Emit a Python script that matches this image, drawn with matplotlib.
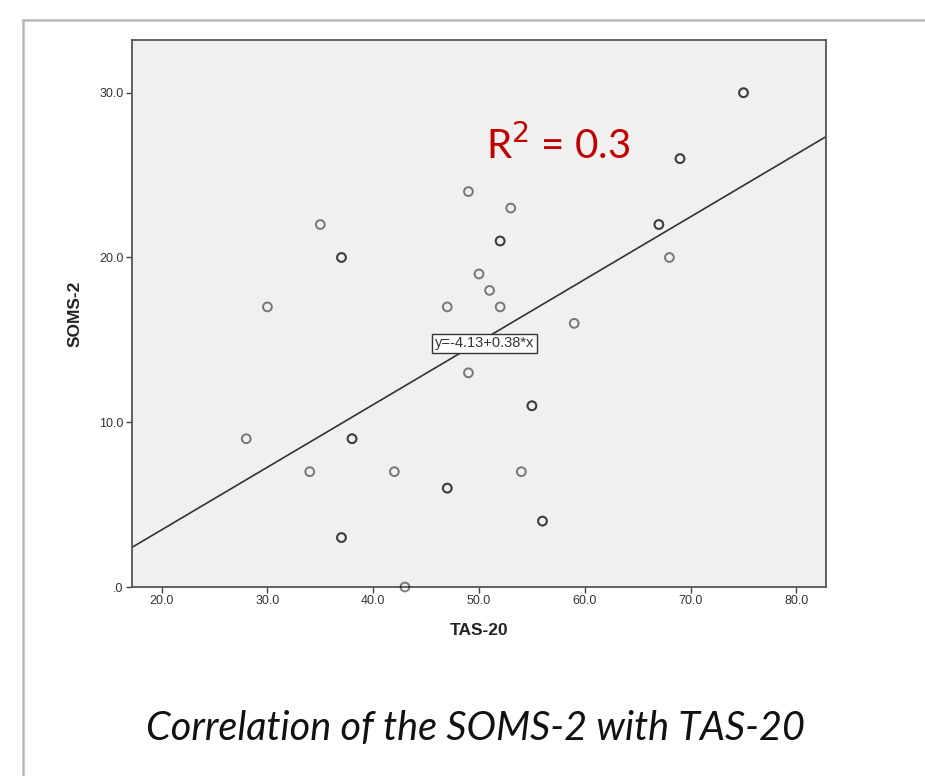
import matplotlib
matplotlib.use("Agg")
import matplotlib.pyplot as plt
import numpy as np

# Data
tas20 = [28, 30, 34, 35, 37, 37, 38, 42, 43, 47, 47, 49, 49, 50, 51, 52, 52, 53, 54, 55, 56, 59, 67, 68, 69, 75,
         37, 37, 38, 47, 52, 55, 56, 67, 75, 69]
soms2 = [9, 17, 7, 22, 20, 3, 9, 7, 0, 17, 6, 24, 13, 19, 18, 21, 17, 23, 7, 11, 4, 16, 22, 20, 26, 30,
         20, 3, 9, 6, 21, 11, 4, 22, 30, 26]
intercept = -4.13
slope = 0.38
r2_text = "R$^2$ = 0.3"
eq_text = "y=-4.13+0.38*x"
xticks = [20, 30, 40, 50, 60, 70, 80]
xticklabels = ["20.0", "30.0", "40.0", "50.0", "60.0", "70.0", "80.0"]
yticks = [0, 10, 20, 30]
yticklabels = [".0", "10.0", "20.0", "30.0"]
xlabel = "TAS-20"
ylabel = "SOMS-2"
caption = "Correlation of the SOMS-2 with TAS-20"

W, H = 925, 776
fig = plt.figure(figsize=(W / 100, H / 100), dpi=100)
fig.patch.set_facecolor("white")

# slide frame
fig.add_artist(plt.Line2D([23 / W, 1.0], [1 - 20 / H, 1 - 20 / H], color="#b8b8b8", lw=1.8))
fig.add_artist(plt.Line2D([23 / W, 23 / W], [0.0, 1 - 20 / H], color="#b8b8b8", lw=1.8))

ax = fig.add_axes([132 / W, 1 - 587 / H, (826 - 132) / W, (587 - 40) / H])
ax.set_facecolor("#f0f0f0")
xmin, xmax = 17.2, 82.8
ax.set_xlim(xmin, xmax)
ax.set_ylim(0, 33.2)

xs = np.array([xmin, xmax])
ax.plot(xs, intercept + slope * xs, color="#333333", lw=1.2, zorder=2)

ax.scatter(tas20, soms2, s=40, facecolors="none", edgecolors="#000000", alpha=0.5,
           linewidths=1.4, zorder=3, clip_on=False)

for s in ax.spines.values():
    s.set_color("#555555")
    s.set_linewidth(1.3)

ax.set_xticks(xticks)
ax.set_xticklabels(xticklabels)
ax.set_yticks(yticks)
ax.set_yticklabels(yticklabels)
ax.tick_params(direction="out", length=4, width=1.0, color="#444444",
               labelsize=9, labelcolor="#333333", pad=2)
for lab in ax.get_xticklabels() + ax.get_yticklabels():
    lab.set_family("Liberation Sans")

ax.set_xlabel(xlabel, fontsize=12.5, fontweight="bold", family="Liberation Sans", color="#222222", labelpad=11)
ax.set_ylabel(ylabel, fontsize=12.5, fontweight="bold", family="Liberation Sans", color="#222222", labelpad=12)

ax.text(50.5, 14.8, eq_text, ha="center", va="center", fontsize=10.5, family="Liberation Sans",
        color="#333333", zorder=4,
        bbox=dict(boxstyle="square,pad=0.18", facecolor="white", edgecolor="#333333", lw=1.0))

ax.text(57.5, 26.8, r2_text, ha="center", va="center", fontsize=29, family="Lato", color="#c00000", zorder=4)

fig.text(476 / W, 1 - 729 / H, caption, ha="center", va="center", fontsize=28.5, family="Lato",
         style="italic", color="#111111")

fig.savefig("out.png", dpi=100, facecolor="white")
